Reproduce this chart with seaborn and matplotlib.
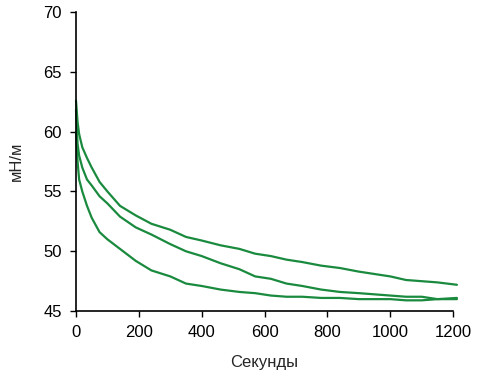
import pandas as pd
import seaborn as sns
import matplotlib.pyplot as plt

# time points (seconds)
seconds = [0, 5, 10, 20, 35, 50, 75, 100, 140, 190, 240, 300, 350, 400, 460, 520,
           570, 620, 670, 720, 780, 840, 900, 950, 1000, 1050, 1100, 1150, 1212]

# surface tension, mN/m
upper = [62.6, 60.8, 59.8, 58.7, 57.8, 57.0, 55.8, 55.0, 53.8, 53.0, 52.3, 51.8, 51.2, 50.9, 50.5, 50.2,
         49.8, 49.6, 49.3, 49.1, 48.8, 48.6, 48.3, 48.1, 47.9, 47.6, 47.5, 47.4, 47.2]
middle = [61.8, 59.0, 58.0, 57.0, 56.0, 55.5, 54.6, 54.0, 52.9, 52.0, 51.4, 50.6, 50.0, 49.6, 49.0, 48.5,
          47.9, 47.7, 47.3, 47.1, 46.8, 46.6, 46.5, 46.4, 46.3, 46.2, 46.2, 46.0, 46.0]
lower = [60.0, 57.5, 56.0, 55.0, 53.8, 52.8, 51.6, 51.0, 50.2, 49.2, 48.4, 47.9, 47.3, 47.1, 46.8, 46.6,
         46.5, 46.3, 46.2, 46.2, 46.1, 46.1, 46.0, 46.0, 46.0, 45.9, 45.9, 46.0, 46.1]

df = pd.DataFrame({
    "t": seconds * 3,
    "val": upper + middle + lower,
    "run": ["a"] * len(seconds) + ["b"] * len(seconds) + ["c"] * len(seconds),
})

sns.set_style("ticks")
plt.rcParams['font.family'] = ['Liberation Sans Narrow', 'Liberation Sans', 'DejaVu Sans']

fig, ax = plt.subplots(figsize=(4.78, 3.78), dpi=100)
fig.subplots_adjust(left=0.159, right=0.948, top=0.968, bottom=0.177)

green = "#1a8a3e"
sns.lineplot(data=df, x="t", y="val", hue="run", palette=[green] * 3,
             linewidth=1.6, legend=False, ax=ax, clip_on=False)

ax.set_xlim(0, 1200)
ax.set_ylim(45, 70)
ax.set_xticks(range(0, 1201, 200))
ax.set_yticks(range(45, 71, 5))
ax.tick_params(direction="out", length=4, width=1, labelsize=12, colors="black", pad=6)
for s in ["left", "bottom"]:
    ax.spines[s].set_color("black")
    ax.spines[s].set_linewidth(1.2)
sns.despine(ax=ax)

ax.set_xlabel("Секунды", fontsize=12, labelpad=11)
ax.set_ylabel("мН/м", fontsize=12, labelpad=14)

plt.savefig("out.png", dpi=100)
